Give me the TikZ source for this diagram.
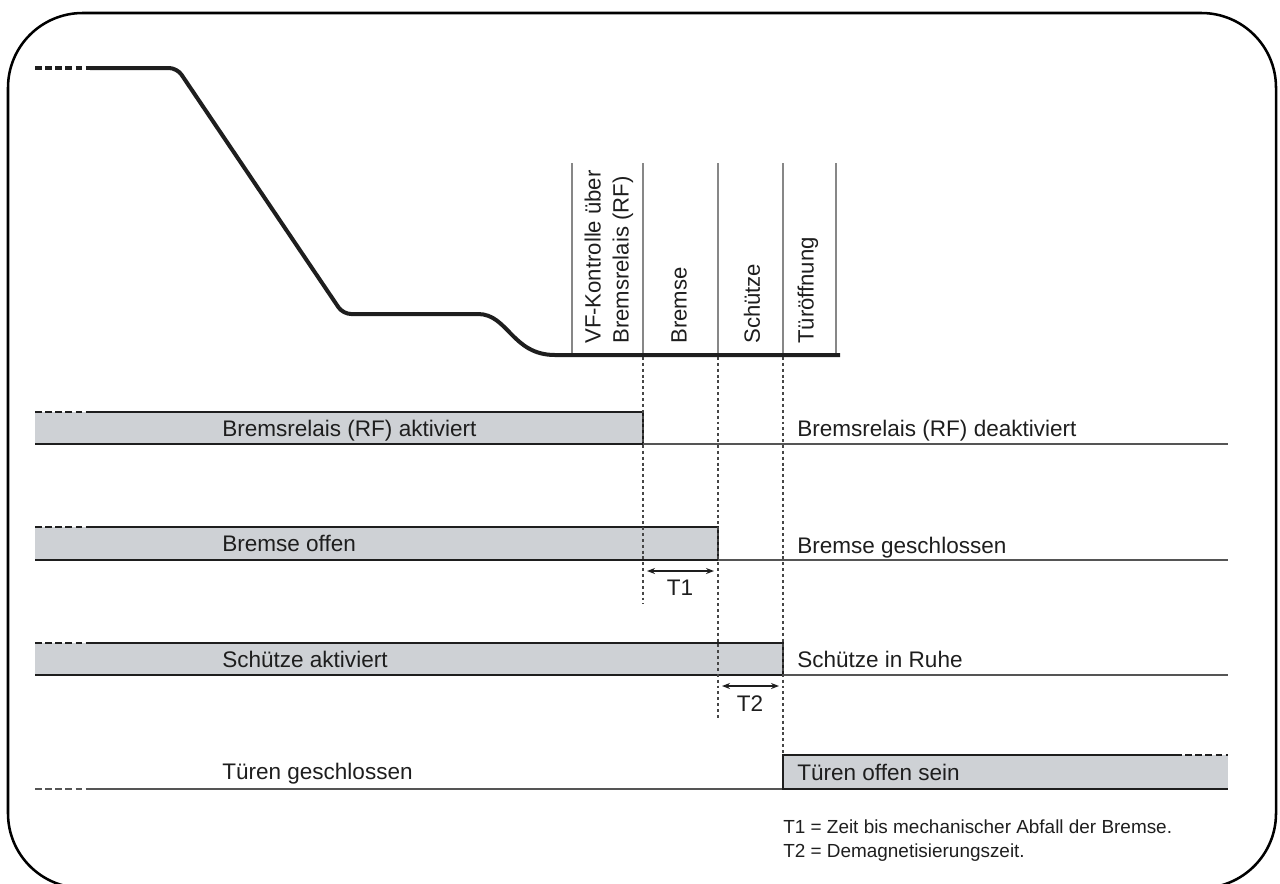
\documentclass[tikz,border=0pt]{standalone}
\usepackage{fontspec}
\setmainfont{Liberation Sans}
\usetikzlibrary{arrows.meta}
\definecolor{barfill}{RGB}{206,209,213}
\definecolor{ink}{RGB}{30,30,30}
\definecolor{basegray}{RGB}{85,85,85}
\definecolor{colgray}{RGB}{135,135,135}
\definecolor{dotgray}{RGB}{70,70,70}
\begin{document}
\begin{tikzpicture}[x=0.75pt,y=-0.75pt,
  lbl/.style={font=\fontsize{16.9}{19}\selectfont, text=ink, inner sep=0pt, anchor=base west},
  vlbl/.style={font=\fontsize{16.6}{21}\selectfont, text=ink, inner sep=0pt, rotate=90, anchor=west, align=left},
  foot/.style={font=\fontsize{14.2}{18}\selectfont, text=ink, inner sep=0pt, anchor=base west, align=left},
  speed/.style={line width=3pt, draw=ink},
  barline/.style={line width=2.1pt, draw=ink},
  baseline/.style={line width=1.2pt, draw=basegray},
  dashpart/.style={dash pattern=on 5pt off 2.6pt},
  colline/.style={line width=1.6pt, draw=colgray},
  dotline/.style={line width=1.2pt, draw=dotgray, dash pattern=on 2.2pt off 2.2pt},
  tarrow/.style={line width=1.1pt, draw=ink, {Stealth[length=6pt,width=4.5pt]}-{Stealth[length=6pt,width=4.5pt]}},
  frame/.style={line width=1.9pt, draw=black, rounded corners=56pt}]
\useasboundingbox (0,0) rectangle (1280,883);
\clip (0,0) rectangle (1280,883);

% outer frame
\draw[frame] (8,13) rectangle (1276,888);

% speed curve
\coordinate (s0) at (35,68);
\coordinate (s1) at (90,68);
\coordinate (s2) at (177,68);
\coordinate (s3) at (343,314);
\coordinate (s4) at (470,314);
\coordinate (s5) at (555,355);
\coordinate (s6) at (840,355);
\draw[speed, dashpart] (s0) -- (s1);
\draw[speed, line join=round] (s1) [rounded corners=6pt] -- (s2) -- (s3) -- (s4) [sharp corners] .. controls (508,314) and (512,355) .. (s5) -- (s6);

% column lines
\foreach \x/\n in {572/a,643/b,718/c,783/d,836/e}{
  \coordinate (ct\n) at (\x,163);
  \coordinate (cb\n) at (\x,353);
  \draw[colline] (ct\n) -- (cb\n);
}
\node[vlbl] (vf) at (609,344) {VF-Kontrolle über\\Bremsrelais (RF)};
\node[vlbl] (hbr) at (679,344) {Bremse};
\node[vlbl] (hsc) at (752,344) {Schütze};
\node[vlbl] (htu) at (808,344) {Türöffnung};

% row 1: Bremsrelais
\fill[barfill] (35,412) rectangle (643,444);
\coordinate (r1a) at (35,412); \coordinate (r1b) at (90,412);
\coordinate (r1c) at (643,412); \coordinate (r1d) at (643,444);
\coordinate (r1e) at (35,444); \coordinate (r1f) at (1228,444);
\draw[barline, dashpart] (r1a) -- (r1b);
\draw[barline] (r1b) -- (r1c) -- (r1d) -- (r1e);
\draw[baseline] (r1d) -- (r1f);
\node[lbl] (l1) at (222,436) {Bremsrelais (RF) aktiviert};
\node[lbl] (r1) at (797,436) {Bremsrelais (RF) deaktiviert};

% row 2: Bremse
\fill[barfill] (35,527) rectangle (718,560);
\coordinate (r2a) at (35,527); \coordinate (r2b) at (90,527);
\coordinate (r2c) at (718,527); \coordinate (r2d) at (718,560);
\coordinate (r2e) at (35,560); \coordinate (r2f) at (1228,560);
\draw[barline, dashpart] (r2a) -- (r2b);
\draw[barline] (r2b) -- (r2c) -- (r2d) -- (r2e);
\draw[baseline] (r2d) -- (r2f);
\node[lbl] (l2) at (222,551) {Bremse offen};
\node[lbl] (r2) at (797,553) {Bremse geschlossen};

% row 3: Schütze
\fill[barfill] (35,643) rectangle (783,675);
\coordinate (r3a) at (35,643); \coordinate (r3b) at (90,643);
\coordinate (r3c) at (783,643); \coordinate (r3d) at (783,675);
\coordinate (r3e) at (35,675); \coordinate (r3f) at (1228,675);
\draw[barline, dashpart] (r3a) -- (r3b);
\draw[barline] (r3b) -- (r3c) -- (r3d) -- (r3e);
\draw[baseline] (r3d) -- (r3f);
\node[lbl] (l3) at (222,667) {Schütze aktiviert};
\node[lbl] (r3) at (797,667) {Schütze in Ruhe};

% row 4: Türen
\fill[barfill] (783,755) rectangle (1228,789);
\coordinate (r4a) at (35,789); \coordinate (r4b) at (90,789);
\coordinate (r4c) at (783,789); \coordinate (r4d) at (783,755);
\coordinate (r4e) at (1175,755); \coordinate (r4f) at (1228,755);
\coordinate (r4g) at (1228,789);
\draw[baseline, dashpart] (r4a) -- (r4b);
\draw[baseline] (r4b) -- (r4c);
\draw[barline] (r4e) -- (r4d) -- (r4c) -- (r4g);
\draw[barline, dashpart] (r4e) -- (r4f);
\node[lbl] (l4) at (222,779) {Türen geschlossen};
\node[lbl] (r4) at (797,780) {Türen offen sein};

% dotted time markers
\coordinate (d1t) at (643,357); \coordinate (d1b) at (643,604);
\coordinate (d2t) at (718,357); \coordinate (d2b) at (718,720);
\coordinate (d3t) at (783,357); \coordinate (d3b) at (783,755);
\draw[dotline] (d1t) -- (d1b);
\draw[dotline] (d2t) -- (d2b);
\draw[dotline] (d3t) -- (d3b);

% T1 / T2
\coordinate (t1a) at (647,571); \coordinate (t1b) at (714,571);
\draw[tarrow] (t1a) -- (t1b);
\node[font=\fontsize{16.9}{19}\selectfont, text=ink, inner sep=0pt] (t1) at (680,588) {T1};
\coordinate (t2a) at (722,686); \coordinate (t2b) at (779,686);
\draw[tarrow] (t2a) -- (t2b);
\node[font=\fontsize{16.9}{19}\selectfont, text=ink, inner sep=0pt] (t2) at (750,704) {T2};

% footnote
\node[foot] (fn) at (783,857) {T1 = Zeit bis mechanischer Abfall der Bremse.\\T2 = Demagnetisierungszeit.};
\end{tikzpicture}
\end{document}
